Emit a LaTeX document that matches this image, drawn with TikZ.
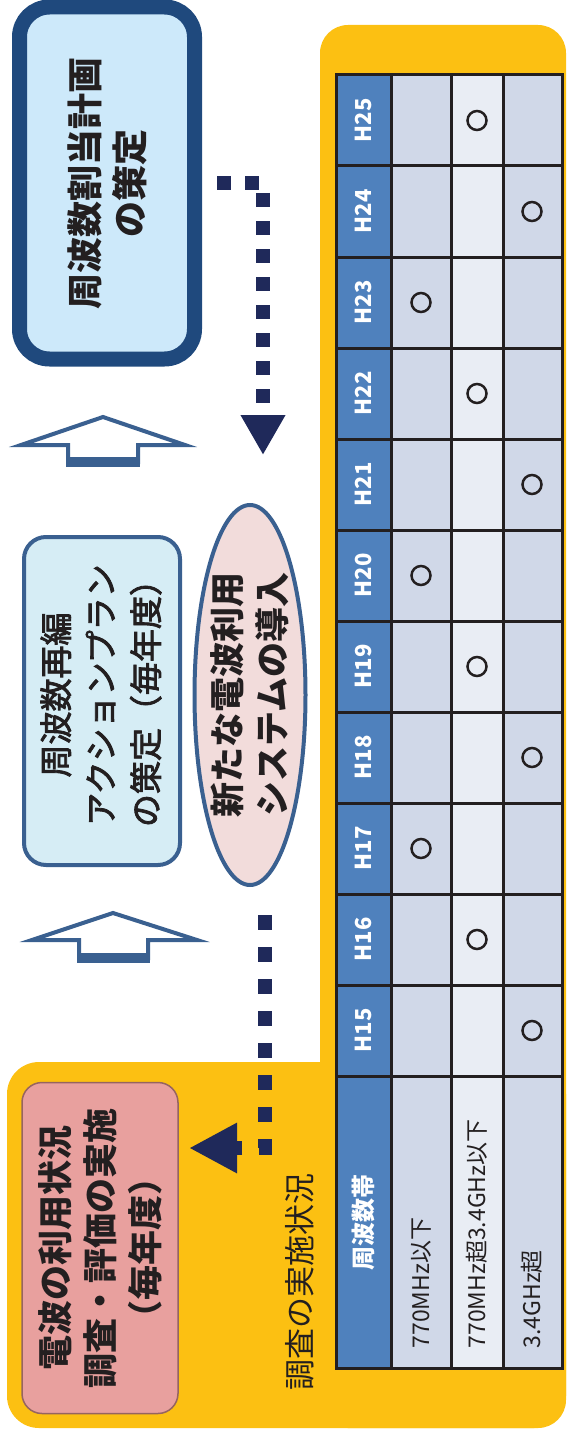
\documentclass[tikz,border=0pt]{standalone}
\usepackage{fontspec}
\usepackage{xcolor}
\usepackage{tikz}
\usetikzlibrary{arrows.meta,shapes}
\setmainfont{Noto Sans CJK JP}
\newfontfamily\jpmed{Noto Sans CJK JP}[FakeBold=2.5]
\definecolor{navy}{RGB}{31,41,90}
\definecolor{darkblue}{RGB}{31,73,125}
\definecolor{midblue}{RGB}{58,96,144}
\definecolor{planfill}{RGB}{205,233,250}
\definecolor{actfill}{RGB}{214,237,245}
\definecolor{newfill}{RGB}{242,220,219}
\definecolor{surveyfill}{RGB}{232,160,158}
\definecolor{surveyline}{RGB}{150,100,96}
\definecolor{bgyellow}{RGB}{252,192,18}
\definecolor{headblue}{RGB}{79,129,189}
\definecolor{cellA}{RGB}{208,216,232}
\definecolor{cellB}{RGB}{233,237,244}
\definecolor{ink}{RGB}{35,31,32}

\begin{document}
\begin{tikzpicture}[x=1pt,y=-1pt,
    bigtext/.style={rotate=90,align=center,text=ink,font=\fontsize{36}{45}\selectfont\bfseries},
    midtext/.style={rotate=90,align=center,text=ink,font=\jpmed\fontsize{33}{45}\selectfont},
    dotline/.style={navy,line width=14pt,dash pattern=on 14pt off 14pt},
    hollow/.style={draw=midblue,fill=white,line width=4pt,line join=miter},
    grid/.style={ink,line width=3pt},
    ring/.style={ink,line width=2.5pt},
    yearlbl/.style={rotate=90,text=white,font=\fontsize{22}{22}\selectfont\bfseries},
    bandlbl/.style={rotate=90,anchor=west,text=ink,font=\fontsize{23}{23}\selectfont}]
\useasboundingbox (0,0) rectangle (566,1434);

% background
\fill[bgyellow,rounded corners=28] (320,25) rectangle (566,1428);
\fill[bgyellow,rounded corners=32] (7,1062) rectangle (566,1428);

% boxes
\node[draw=darkblue,fill=planfill,line width=15pt,rounded corners=30,
      minimum width=175,minimum height=352] (plan) at (107,183) {};
\node[bigtext] (plantext) at (plan) {周波数割当計画\\の策定};

\node[draw=midblue,fill=actfill,line width=4pt,rounded corners=22,
      minimum width=156,minimum height=328] (act) at (102,701) {};
\node[midtext] (acttext) at (101,695) {周波数再編\\アクションプラン\\の策定（毎年度）};

\node[ellipse,draw=midblue,fill=newfill,line width=4pt,inner sep=0,
      minimum width=111,minimum height=380] (newsys) at (250,695) {};
\node[bigtext,font=\fontsize{35}{45}\selectfont\bfseries] (newtext) at (newsys) {新たな電波利用\\システムの導入};

\node[draw=surveyline,fill=surveyfill,line width=1.5pt,rounded corners=20,
      minimum width=156,minimum height=331] (survey) at (100,1248) {};
\node[bigtext,font=\fontsize{35}{45}\selectfont\bfseries] (surveytext) at (survey) {電波の利用状況\\調査・評価の実施\\（毎年度）};

% hollow arrows
\draw[hollow] (103,417) -- (185,445) -- (138,445) -- (138,462) -- (68,462) -- (68,445) -- (21,445) -- cycle;
\draw[midblue,line width=10pt] (66,462) -- (140,462);
\draw[hollow] (113,913) -- (197,940) -- (148,940) -- (148,958) -- (79,958) -- (79,940) -- (32,940) -- cycle;
\draw[midblue,line width=10pt] (77,958) -- (150,958);

% dotted arrows
\coordinate (dotend) at (263,455);
\coordinate (dotstart) at (265,915);
\coordinate (dotstop) at (189,1148);
\draw[dotline,-{Triangle[length=40pt,width=42pt]},shorten <=15pt] (plan.east) -| (dotend);
\draw[dotline,dash pattern=on 15pt off 17pt,-{Triangle[length=48pt,width=47pt]}] (dotstart) |- (dotstop);

% table
\fill[headblue] (336,75) rectangle (391,1368);
\fill[cellA] (391,75) rectangle (451,1368);
\fill[cellB] (451,75) rectangle (503,1368);
\fill[cellA] (503,75) rectangle (562,1368);
\foreach \k in {1,...,11}
  \draw[grid] (336,75+91*\k) -- (562,75+91*\k);
\foreach \x in {391,451,503}
  \draw[grid] (\x,75) -- (\x,1368);
\draw[grid] (336,75) rectangle (562,1368);

\foreach \n in {15,...,25}
  \node[yearlbl] (h\n) at (363,{75+91*(25-\n)+45.5}) {H\n};
\foreach \n/\cx in {15/532,16/477,17/421,18/532,19/477,20/421,21/532,22/477,23/421,24/532,25/477}
  \draw[ring] (\cx,{75+91*(25-\n)+45.5}) circle (9.5pt);

\node[yearlbl,font=\fontsize{24}{24}\selectfont\bfseries] (band) at (363,1222) {周波数帯};
\node[bandlbl] (bandA) at (421,1352) {770MHz以下};
\node[bandlbl] (bandB) at (477,1352) {770MHz超3.4GHz以下};
\node[bandlbl] (bandC) at (532,1352) {3.4GHz超};

\node[rotate=90,text=ink,font=\fontsize{31}{31}\selectfont] (caption) at (300,1282) {調査の実施状況};
\end{tikzpicture}
\end{document}
